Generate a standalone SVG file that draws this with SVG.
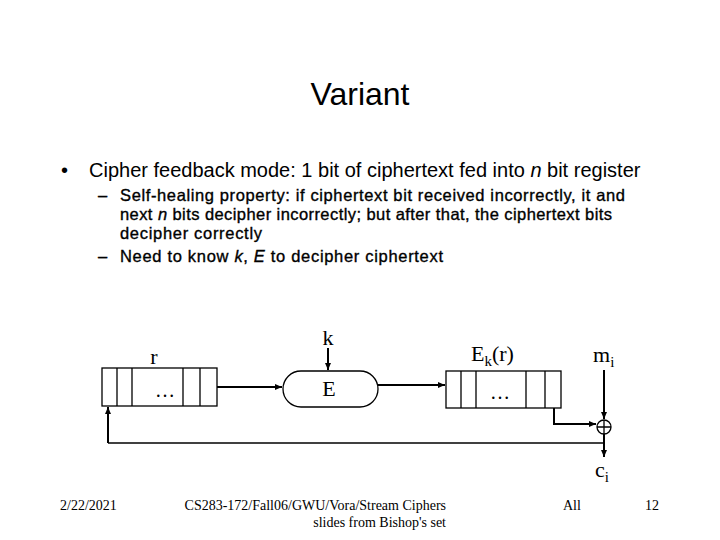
<svg xmlns="http://www.w3.org/2000/svg" width="720" height="540" viewBox="0 0 720 540">
<style>
.sans{font-family:"Liberation Sans",Arial,sans-serif;fill:#000}
.sub{stroke:#000;stroke-width:0.35}
.serif{font-family:"Liberation Serif","Times New Roman",serif;fill:#000}
.box{fill:#fff;stroke:#000;stroke-width:1.3}
.ln{fill:none;stroke:#000;stroke-width:1.3}
.ar{fill:none;stroke:#000;stroke-width:2}
</style>
<defs>
<marker id="ah" markerWidth="8" markerHeight="8" refX="7" refY="4" orient="auto" markerUnits="userSpaceOnUse">
<path d="M0,1 L7,4 L0,7 z" fill="#000"/>
</marker>
</defs>
<rect width="720" height="540" fill="#fff"/>
<text class="sans" x="360" y="105" font-size="32" text-anchor="middle">Variant</text>
<text class="sans" x="61" y="177" font-size="20">•</text>
<text class="sans" x="89" y="177" font-size="20">Cipher feedback mode: 1 bit of ciphertext fed into <tspan font-style="italic">n</tspan> bit register</text>
<g class="sans sub" font-size="16.5">
<text x="98" y="201">–</text>
<text x="120" y="201" textLength="505" lengthAdjust="spacing">Self-healing property: if ciphertext bit received incorrectly, it and</text>
<text x="120" y="220" textLength="492" lengthAdjust="spacing">next <tspan font-style="italic">n</tspan> bits decipher incorrectly; but after that, the ciphertext bits</text>
<text x="120" y="239" textLength="142" lengthAdjust="spacing">decipher correctly</text>
<text x="98" y="262">–</text>
<text x="120" y="262" textLength="323" lengthAdjust="spacing">Need to know <tspan font-style="italic">k</tspan>, <tspan font-style="italic">E</tspan> to decipher ciphertext</text>
</g>
<g id="reg-r">
<rect class="box" x="102" y="368" width="115" height="38"/>
<path class="ln" d="M117,368V406M132,368V406M183,368V406M200,368V406"/>
<text class="serif" x="165" y="397" font-size="20" text-anchor="middle">…</text>
<text class="serif" x="154" y="364" font-size="22" text-anchor="middle">r</text>
</g>
<g id="enc-E">
<rect class="box" x="283" y="371" width="95" height="36" rx="18" ry="18"/>
<text class="serif" x="329" y="396" font-size="22" text-anchor="middle">E</text>
</g>
<g id="key-k">
<text class="serif" x="328" y="345" font-size="22" text-anchor="middle">k</text>
</g>
<g id="reg-Ek">
<rect class="box" x="446" y="371" width="115" height="37"/>
<path class="ln" d="M461,371V408M476,371V408M526,371V408M545,371V408"/>
<text class="serif" x="500" y="399" font-size="20" text-anchor="middle">…</text>
<text class="serif" x="471" y="361" font-size="22">E<tspan font-size="15" dy="5">k</tspan><tspan dy="-5">(r)</tspan></text>
</g>
<g id="m-i">
<text class="serif" x="593" y="362" font-size="22">m<tspan font-size="15" dy="5">i</tspan></text>
</g>
<g id="xor">
<circle class="box" cx="604" cy="427" r="7"/>
<path class="ln" d="M597,427H611M604,420V434"/>
</g>
<g id="c-i">
<text class="serif" x="595" y="477" font-size="22">c<tspan font-size="15" dy="5">i</tspan></text>
</g>
<g id="connectors">
<path class="ar" d="M217,387H282" marker-end="url(#ah)"/>
<path class="ar" d="M328,348V370" marker-end="url(#ah)"/>
<path class="ar" d="M378,385H445" marker-end="url(#ah)"/>
<path class="ar" d="M604,370V419" marker-end="url(#ah)"/>
<path class="ar" d="M554,408V424H596" marker-end="url(#ah)"/>
<path class="ar" d="M604,434V457" marker-end="url(#ah)"/>
<path class="ln" d="M604,443H108"/>
<path class="ar" d="M108,443V407" marker-end="url(#ah)"/>
</g>
<g class="serif" font-size="14">
<text x="60" y="510">2/22/2021</text>
<text x="446" y="510" text-anchor="end">CS283-172/Fall06/GWU/Vora/Stream Ciphers</text>
<text x="446" y="527" text-anchor="end">slides from Bishop's set</text>
<text x="563" y="510">All</text>
<text x="645" y="510">12</text>
</g>
</svg>
